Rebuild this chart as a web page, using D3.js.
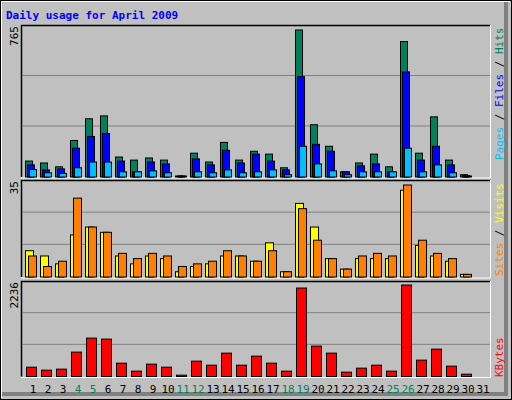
<!DOCTYPE html>
<html><head><meta charset="utf-8">
<script src="https://cdn.jsdelivr.net/npm/d3@7"></script>
<style>body{margin:0;background:#fff}svg text{font-family:"DejaVu Sans Mono",monospace}</style>
</head><body><div id="chart"></div>
<script>
// data
var days = d3.range(1, 32);
var weekends = [4, 5, 11, 12, 18, 19, 25, 26];
var hits  = [83,73,53,190,303,318,104,88,99,88,4,124,78,180,88,134,119,48,765,272,160,27,73,119,53,705,124,313,88,12,0];
var files = [63,37,42,150,211,226,83,27,78,68,3,94,63,139,73,119,83,37,522,170,134,27,58,68,27,547,88,160,63,7,0];
var pages = [39,22,19,48,78,78,27,27,32,22,2,27,22,37,22,27,37,12,160,68,32,12,27,27,27,150,27,63,22,5,0];
var visits = [10,8,5,16,19,17,8,5,8,7,2,4,5,8,8,6,13,2,28,19,7,3,7,7,7,33,12,8,6,1,0];
var sites  = [8,4,6,30,19,17,9,7,9,8,4,5,6,10,8,6,10,2,26,14,7,3,8,9,8,35,14,9,7,1,0];
var kbytes = [228,155,180,596,938,914,326,131,302,228,33,375,277,571,277,498,326,131,2162,743,571,106,204,277,131,2236,400,669,253,57,0];

var W = 512, H = 400;
var svg = d3.select("#chart").append("svg").attr("width", W).attr("height", H);

// frame with bevel
svg.append("rect").attr("x",0).attr("y",0).attr("width",W).attr("height",H).attr("fill","#c0c0c0");
svg.append("path").attr("d","M506,2V394H2").attr("fill","none").attr("stroke","#808080").attr("stroke-width",4);
svg.append("path").attr("d","M1,398V1H510").attr("fill","none").attr("stroke","#fff").attr("stroke-width",2);
svg.append("rect").attr("x",0.5).attr("y",0.5).attr("width",W-1).attr("height",H-1).attr("fill","none").attr("stroke","#000");

svg.append("text").attr("x",6).attr("y",19).attr("font-size","11px").attr("font-weight","bold")
   .attr("fill","#0000ff").text("Daily usage for April 2009");

var xScale = d3.scaleBand().domain(days).range([22, 487]).paddingInner(0);

var panels = [
  {top:25, bottom:176.5, max:765, topPx:29.5, label:"765"},
  {top:180, bottom:276.5, max:35, topPx:184.5, label:"35"},
  {top:281, bottom:376, max:2236, topPx:284.5, label:"2236"}
];

panels.forEach(function(p){
  var g = svg.append("g");
  g.append("rect").attr("x",21).attr("y",p.top).attr("width",469).attr("height",p.bottom-p.top+1)
   .attr("fill","#c0c0c0");
  g.append("path").attr("d","M21.5,"+(p.bottom+0.5)+"V"+(p.top+0.5)+"H490.5")
   .attr("fill","none").attr("stroke","#000").attr("stroke-width",1.5);
  g.append("path").attr("d","M21,"+(p.bottom+1.5)+"H490.5V"+p.top)
   .attr("fill","none").attr("stroke","#fff");
  var third = (p.bottom - p.top) / 3;
  [1,2].forEach(function(k){
    g.append("line").attr("x1",22).attr("x2",490).attr("y1",p.top+third*k).attr("y2",p.top+third*k)
     .attr("stroke","#808080").attr("stroke-width",1);
  });
  g.append("text").attr("transform","translate(18,"+(p.top+1)+") rotate(-90)")
   .attr("text-anchor","end").attr("font-size","11px").attr("fill","#000").text(p.label);
  p.y = d3.scaleLinear().domain([0,p.max]).range([p.bottom,p.topPx]);
});

function bars(p, vals, off, w, color){
  svg.append("g").selectAll("rect").data(vals).enter().append("rect")
    .attr("x", function(d,i){ return xScale(days[i]) + off + 0.5; })
    .attr("y", function(d){ return Math.min(p.y(d), p.bottom - 1) + 0.5; })
    .attr("width", w)
    .attr("height", function(d){ return Math.max(p.bottom - p.y(d), 1); })
    .attr("fill", function(d){ return d > 0 ? color : "none"; })
    .attr("stroke", function(d){ return d > 0 ? "#000" : "none"; });
}
bars(panels[0], hits, 3, 7, "#00805c");
bars(panels[0], files, 5, 7, "#0000ff");
bars(panels[0], pages, 7, 7, "#00c0ff");
bars(panels[1], visits, 3, 8, "#ffff00");
bars(panels[1], sites, 6, 8, "#ff8000");
bars(panels[2], kbytes, 4, 10, "#ff0000");

// day labels
svg.append("g").selectAll("text").data(days).enter().append("text")
  .attr("x", function(d){ return xScale(d) + 11; })
  .attr("y", 393).attr("text-anchor","middle").attr("font-size","11px")
  .attr("fill", function(d){ return weekends.indexOf(d) >= 0 ? "#00805c" : "#000"; })
  .text(function(d){ return d; });

// right legends
function legend(y, parts){
  var t = svg.append("text").attr("transform","translate(503,"+y+") rotate(-90)")
    .attr("font-size","11px");
  parts.forEach(function(s){ t.append("tspan").attr("fill",s[1]).text(s[0]); });
}
legend(160, [["Pages","#00c0ff"],[" / ","#000"],["Files","#0000ff"],[" / ","#000"],["Hits","#00805c"]]);
legend(276, [["Sites","#ff8000"],[" / ","#000"],["Visits","#ffff00"]]);
legend(377, [["KBytes","#ff0000"]]);
</script></body></html>
